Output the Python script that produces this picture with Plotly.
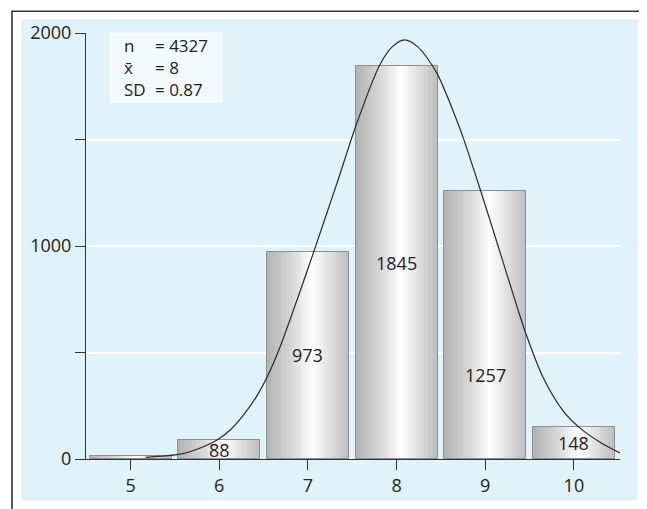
import plotly.graph_objects as go

# ---------------- data ----------------
categories = [5, 6, 7, 8, 9, 10]
counts = [16, 88, 973, 1845, 1257, 148]
y_tick_vals = [0, 500, 1000, 1500, 2000]
y_tick_text = ["0", "", "1000", "", "2000"]

curve_x = [5.17, 5.56, 5.75, 5.97, 6.12, 6.27, 6.43, 6.54, 6.68, 6.88, 7.08, 7.21,
           7.34, 7.55, 7.81, 7.95, 8.09, 8.24, 8.45, 8.67, 8.75, 8.94, 9.13, 9.37,
           9.47, 9.65, 9.88, 10.07, 10.29, 10.52]
curve_y = [8, 23, 46, 88, 135, 205, 300, 385, 520, 750, 990, 1150,
           1310, 1575, 1850, 1935, 1968, 1935, 1815, 1600, 1510, 1270, 1020, 700,
           575, 385, 225, 145, 80, 28]

stats_labels = ["n", "x\u0304", "SD"]
stats_values = ["= 4327", "= 8", "= 0.87"]

# ---------------- style ----------------
FONT = "Open Sans"
TXT = "#222222"
PANEL = "#e0f2fa"
BAR_W = 0.925
N_SLICES = 30


def grad_color(t):
    stops = [(0.0, 178), (0.3, 215), (0.55, 255), (0.78, 222), (1.0, 188)]
    for (t0, c0), (t1, c1) in zip(stops[:-1], stops[1:]):
        if t0 <= t <= t1:
            c = c0 + (c1 - c0) * (t - t0) / (t1 - t0)
            c = int(round(c))
            return f"rgb({c},{c},{c})"
    return "rgb(188,188,188)"


fig = go.Figure()

# gradient bars built from vertical slices of bar traces
slice_w = BAR_W / N_SLICES
for k in range(N_SLICES):
    fig.add_trace(go.Bar(
        x=categories, y=counts,
        width=slice_w, offset=-BAR_W / 2 + k * slice_w,
        marker=dict(color=grad_color((k + 0.5) / N_SLICES), line=dict(width=0)),
        showlegend=False, hoverinfo="skip",
    ))

# bar outlines
fig.add_trace(go.Bar(
    x=categories, y=counts, width=BAR_W,
    marker=dict(color="rgba(0,0,0,0)", line=dict(color="#8e8e8e", width=1)),
    showlegend=False, hoverinfo="x+y",
))

# fitted curve
fig.add_trace(go.Scatter(
    x=curve_x, y=curve_y, mode="lines",
    line=dict(color="#2a2a2a", width=1.2, shape="spline", smoothing=0.8),
    showlegend=False, hoverinfo="skip",
))

# value labels on bars
label_shift = {9: -50}
annotations = []
for c, v in zip(categories, counts):
    if v < 50:
        continue
    annotations.append(dict(
        x=c, y=v / 2, xref="x", yref="y", text=str(v), showarrow=False,
        yshift=label_shift.get(c, 0),
        font=dict(family=FONT, size=18, color=TXT),
    ))

# stats box text (two columns)
annotations.append(dict(x=0.0674, y=0.918, xref="paper", yref="paper",
                        text="<br>".join(stats_labels), align="left",
                        showarrow=False, xanchor="left", yanchor="middle",
                        font=dict(family=FONT, size=17, color=TXT)))
annotations.append(dict(x=0.1255, y=0.918, xref="paper", yref="paper",
                        text="<br>".join(stats_values), align="left",
                        showarrow=False, xanchor="left", yanchor="middle",
                        font=dict(family=FONT, size=17, color=TXT)))

shapes = [
    # outer frame
    dict(type="rect", xref="paper", yref="paper", x0=-0.1386, x1=1.0468,
         y0=-0.2, y1=1.051, line=dict(color="#333333", width=1.6),
         fillcolor="white", layer="below"),
    # light blue panel
    dict(type="rect", xref="paper", yref="paper", x0=-0.1217, x1=1.0337,
         y0=-0.0974, y1=1.0325, line=dict(width=0), fillcolor=PANEL, layer="below"),
    # stats box
    dict(type="rect", xref="paper", yref="paper", x0=0.045, x1=0.2547,
         y0=0.8376, y1=1.0, line=dict(color="rgba(255,255,255,0.9)", width=1),
         fillcolor="rgba(246,252,254,0.85)", layer="above"),
]

# the page body has an 8px margin: figure is shifted by (8, 8)
fig.update_layout(
    width=639, height=501,
    margin=dict(l=78, r=27, t=23, b=47),
    paper_bgcolor="white", plot_bgcolor="rgba(0,0,0,0)",
    barmode="overlay", bargap=0,
    showlegend=False,
    font=dict(family=FONT, size=18, color=TXT),
    shapes=shapes, annotations=annotations,
    xaxis=dict(
        range=[4.497, 10.52], tickvals=categories, ticktext=[str(c) for c in categories],
        ticks="outside", ticklen=10, tickcolor="#333333", tickwidth=1,
        showline=True, linecolor="#333333", linewidth=1.2,
        showgrid=False, zeroline=False, fixedrange=True,
        tickfont=dict(family=FONT, size=18, color=TXT),
    ),
    yaxis=dict(
        range=[0, 2000], tickvals=y_tick_vals, ticktext=y_tick_text,
        ticks="outside", ticklen=10, tickcolor="#333333", tickwidth=1,
        showline=True, linecolor="#333333", linewidth=1.2,
        showgrid=True, gridcolor="white", gridwidth=1.5,
        zeroline=False, fixedrange=True,
        tickfont=dict(family=FONT, size=18, color=TXT),
    ),
)

fig.write_html("out.html")
